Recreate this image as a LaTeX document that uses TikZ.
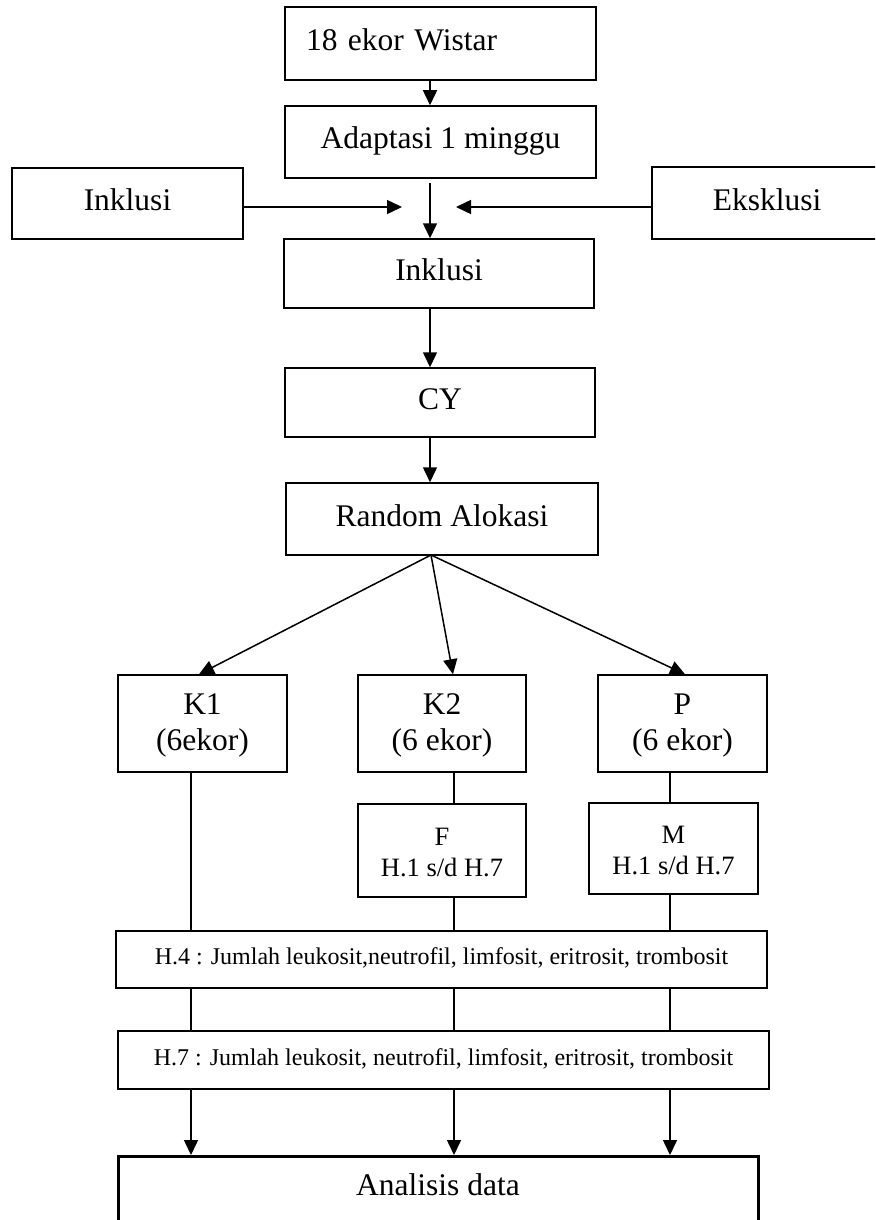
\documentclass[tikz,border=0pt]{standalone}
\usepackage{fontspec}
\setmainfont{Liberation Serif}
\usetikzlibrary{arrows.meta}
\tikzset{
  bigf/.style={font=\fontsize{31.5}{36}\selectfont},
  midf/.style={font=\fontsize{26.5}{31}\selectfont},
  smallf/.style={font=\fontsize{24}{28}\selectfont},
  box/.style={draw, line width=1.5pt, inner sep=0pt, align=center},
  onebox/.style={box, bigf, text height=22pt, text depth=8pt},
  linebox/.style={box, smallf, text height=16pt, text depth=6pt},
  conn/.style={line width=1.5pt},
  arr/.style={conn, -{Triangle[length=15pt,width=14pt]}},
}
\begin{document}
\begin{tikzpicture}[x=1pt,y=-1pt]
\useasboundingbox (0,0) rectangle (875,1220);
\fill[white] (0,0) rectangle (875,1220);
\clip (0,0) rectangle (875,1220);

% column coordinates
\coordinate (ax) at (430,0);
\coordinate (c1) at (191,0);
\coordinate (c2) at (454,0);
\coordinate (c3) at (670,0);

% top chain
\node[onebox, minimum width=311pt, minimum height=73pt, text width=269pt, align=left] (w) at (440.5,43.5) {18 ekor Wistar};
\node[onebox, minimum width=311pt, minimum height=72pt] (ad) at (440.5,142) {Adaptasi 1 minggu};
\node[onebox, minimum width=231pt, minimum height=71pt] (inL) at (127.5,203.5) {Inklusi};
\node[onebox, minimum width=230pt, minimum height=72pt] (ex) at (767,203) {Eksklusi};
\node[onebox, minimum width=310pt, minimum height=69pt] (in2) at (439,273.5) {Inklusi};
\node[onebox, minimum width=310pt, minimum height=69pt] (cy) at (440,402.5) {CY};
\node[onebox, minimum width=312pt, minimum height=72pt] (ra) at (442,519) {Random Alokasi};

% groups
\node[box, bigf, minimum width=169pt, minimum height=97pt] (k1) at (202.5,723.5) {\strut K1\\(6ekor)};
\node[box, bigf, minimum width=168pt, minimum height=97pt] (k2) at (442,723.5) {\strut K2\\(6 ekor)};
\node[box, bigf, minimum width=169pt, minimum height=97pt] (p) at (682.5,723.5) {\strut P\\(6 ekor)};
\node[box, midf, minimum width=168pt, minimum height=93pt] (f) at (442,850.5) {\strut F\\H.1 s/d H.7};
\node[box, midf, minimum width=169pt, minimum height=91pt] (m) at (673.5,848.5) {\strut M\\H.1 s/d H.7};

\node[linebox, minimum width=651pt, minimum height=57pt] (h4) at (441.5,959.5) {H.4 : Jumlah leukosit,neutrofil, limfosit, eritrosit, trombosit};
\node[linebox, minimum width=651pt, minimum height=58pt] (h7) at (443.5,1060) {H.7 : Jumlah leukosit, neutrofil, limfosit, eritrosit, trombosit};

\node[draw, line width=3pt, bigf, inner sep=0pt, minimum width=640pt, text height=39pt, text depth=90pt, anchor=north] (an) at (438,1155) {Analisis data};

% connectors top
\coordinate (adout) at (430,183);
\coordinate (jL) at (402,207);
\coordinate (jR) at (456,207);
\draw[arr] (w.south -| ax) -- (ad.north -| ax);
\draw[arr] (adout) -- (in2.north -| ax);
\draw[arr] (inL.east |- jL) -- (jL);
\draw[arr] (ex.west |- jR) -- (jR);
\draw[arr] (in2.south -| ax) -- (cy.north -| ax);
\draw[arr] (cy.south -| ax) -- (ra.north -| ax);

% fan
\coordinate (fan) at (431,555);
\draw[arr] (fan) -- ([xshift=-3.5pt]k1.north);
\draw[arr] (fan) -- ([xshift=11pt]k2.north);
\draw[arr] (fan) -- ([xshift=2.5pt]p.north);

% verticals
\draw[conn] (k1.south -| c1) -- (h4.north -| c1);
\draw[conn] (k2.south -| c2) -- (f.north -| c2);
\draw[conn] (f.south -| c2) -- (h4.north -| c2);
\draw[conn] (p.south -| c3) -- (m.north -| c3);
\draw[conn] (m.south -| c3) -- (h4.north -| c3);
\draw[conn] (h4.south -| c1) -- (h7.north -| c1);
\draw[conn] (h4.south -| c2) -- (h7.north -| c2);
\draw[conn] (h4.south -| c3) -- (h7.north -| c3);
\draw[arr] (h7.south -| c1) -- (an.north -| c1);
\draw[arr] (h7.south -| c2) -- (an.north -| c2);
\draw[arr] (h7.south -| c3) -- (an.north -| c3);
\end{tikzpicture}
\end{document}
